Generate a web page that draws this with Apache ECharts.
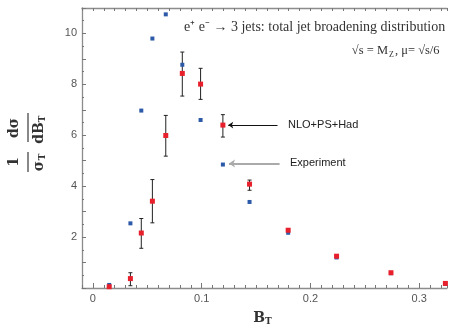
<!DOCTYPE html>
<html>
<head>
<meta charset="utf-8">
<script src="https://cdn.jsdelivr.net/npm/echarts@6/dist/echarts.min.js"></script>
<style>
  html, body { margin: 0; padding: 0; background: #fff; }
  #chart { width: 451px; height: 326px; }
</style>
</head>
<body>
<div id="chart"></div>
<script>
// B_T bin centres
var bT = [0.015, 0.0345, 0.0445, 0.0547, 0.067, 0.0822, 0.099, 0.1195, 0.144, 0.1795, 0.224, 0.274, 0.324];
// experiment (blue)
var expVals = [0.12, 2.54, 6.97, 9.8, 10.75, 8.77, 6.6, 4.85, 3.38, 2.17, 1.2, 0.58, 0.16];
// NLO+PS+Had (red) with error band ends
var nloVals = [0.05, 0.37, 2.16, 3.41, 5.99, 8.43, 8.01, 6.4, 4.08, 2.27, 1.25, 0.6, 0.18];
var nloLow  = [null, 0.09, 1.56, 2.56, 5.18, 7.54, 7.41, 5.93, 3.84, null, null, null, null];
var nloHigh = [null, 0.6, 2.73, 4.26, 6.78, 9.27, 8.63, 6.81, 4.24, null, null, null, null];
// tick labels
var xTicks = [0, 0.1, 0.2, 0.3];
var xTickLabels = ['0', '0.1', '0.2', '0.3'];
var yTicks = [2, 4, 6, 8, 10];
var yTickLabels = ['2', '4', '6', '8', '10'];

var expData = bT.map(function (x, i) { return [x, expVals[i]]; });
var nloData = bT.map(function (x, i) { return [x, nloVals[i]]; });
var errData = [];
bT.forEach(function (x, i) {
  if (nloLow[i] != null) errData.push([x, nloLow[i], nloHigh[i]]);
});

var axisGray = '#8c8c8c';
var xMin = -0.01, xMax = 0.3255;

function xLabel(v) {
  for (var i = 0; i < xTicks.length; i++) {
    if (Math.abs(v - xTicks[i]) < 1e-6) return xTickLabels[i];
  }
  return '';
}
function yLabel(v) {
  for (var i = 0; i < yTicks.length; i++) {
    if (Math.abs(v - yTicks[i]) < 1e-6) return yTickLabels[i];
  }
  return '';
}

function renderErr(params, api) {
  var x = api.value(0);
  var lo = api.coord([x, api.value(1)]);
  var hi = api.coord([x, api.value(2)]);
  var w = 2;
  var st = { stroke: '#222', lineWidth: 1 };
  return {
    type: 'group',
    children: [
      { type: 'line', shape: { x1: lo[0], y1: lo[1], x2: hi[0], y2: hi[1] }, style: st },
      { type: 'line', shape: { x1: lo[0] - w, y1: lo[1], x2: lo[0] + w, y2: lo[1] }, style: st },
      { type: 'line', shape: { x1: hi[0] - w, y1: hi[1], x2: hi[0] + w, y2: hi[1] }, style: st }
    ]
  };
}

var serifBold = 'bold 14px "DejaVu Serif"';
var subBold = 'bold 9px "DejaVu Serif"';
var R = Math.PI / 2;
// rotated text helper for the y axis name
function rt(x, y, text, font) {
  return { type: 'text', x: x, y: y, rotation: R,
    style: { text: text, font: font, fill: '#333', textAlign: 'center', textVerticalAlign: 'middle' } };
}

var chart = echarts.init(document.getElementById('chart'));
chart.setOption({
  animation: false,
  grid: { left: 82, right: 4, top: 8, bottom: 38 },
  xAxis: [
    {
      type: 'value', position: 'bottom', min: xMin, max: xMax, interval: 0.01,
      axisLine: { onZero: false, lineStyle: { color: axisGray, width: 1.3 } },
      axisTick: { inside: true, length: 3, lineStyle: { color: '#777' } },
      axisLabel: { formatter: xLabel, color: '#555', fontSize: 11, margin: 5, fontFamily: 'Liberation Sans',
        showMinLabel: true, showMaxLabel: true },
      splitLine: { show: false }
    },
    {
      type: 'value', position: 'bottom', min: xMin, max: xMax,
      axisLine: { show: false, onZero: false },
      axisTick: { inside: true, length: 5, customValues: xTicks, lineStyle: { color: '#777' } },
      axisLabel: { show: false },
      splitLine: { show: false }
    },
    {
      type: 'value', position: 'top', min: xMin, max: xMax, interval: 0.01,
      axisLine: { onZero: false, lineStyle: { color: axisGray, width: 1.3 } },
      axisTick: { inside: true, length: 3, lineStyle: { color: '#777' } },
      axisLabel: { show: false },
      splitLine: { show: false }
    }
  ],
  yAxis: {
    type: 'value', min: 0, max: 11, interval: 1,
    axisLine: { show: true, onZero: false, lineStyle: { color: axisGray, width: 1.3 } },
    axisTick: { inside: true, length: 4, lineStyle: { color: '#777' } },
    minorTick: { show: true, splitNumber: 2, length: 2, lineStyle: { color: '#777' } },
    axisLabel: { formatter: yLabel, color: '#555', fontSize: 11, margin: 5, fontFamily: 'Liberation Sans' },
    splitLine: { show: false }
  },
  series: [
    {
      type: 'custom', renderItem: renderErr, data: errData, z: 2,
      encode: { x: 0, y: [1, 2] }
    },
    {
      name: 'Experiment', type: 'scatter', data: expData, symbol: 'rect', symbolSize: 4, z: 3,
      itemStyle: { color: '#2c5aa8', opacity: 1 },
      markLine: {
        silent: true, symbol: ['none', 'arrow'], symbolSize: [6, 6],
        label: { show: false },
        lineStyle: { color: '#aaaaaa', width: 2, type: 'solid' },
        data: [[{ coord: [0.1716, 4.89] }, { coord: [0.1251, 4.89] }]]
      }
    },
    {
      name: 'NLO+PS+Had', type: 'scatter', data: nloData, symbol: 'rect', symbolSize: 5, z: 4,
      itemStyle: { color: '#e8202c', opacity: 1 },
      markLine: {
        silent: true, symbol: ['none', 'arrow'], symbolSize: [5, 5],
        label: { show: false },
        lineStyle: { color: '#111', width: 1, type: 'solid' },
        data: [[{ coord: [0.1697, 6.4] }, { coord: [0.1244, 6.4] }]]
      }
    }
  ],
  graphic: [
    { type: 'text', x: 184, y: 27, style: { text: 'e\u207A e\u207B \u2192 3 jets: total jet broadening distribution',
      font: '14px "Liberation Serif"', fill: '#333', textAlign: 'left', textVerticalAlign: 'middle' } },
    { type: 'text', x: 388, y: 51, style: { text: '\u221As = M', font: '12.5px "Liberation Serif"', fill: '#333',
      textAlign: 'right', textVerticalAlign: 'middle' } },
    { type: 'text', x: 389, y: 55, style: { text: 'Z', font: '8px "Liberation Serif"', fill: '#333',
      textAlign: 'left', textVerticalAlign: 'middle' } },
    { type: 'text', x: 395, y: 51, style: { text: ', \u03BC= \u221As/6', font: '12.5px "Liberation Serif"', fill: '#333',
      textAlign: 'left', textVerticalAlign: 'middle' } },
    { type: 'text', x: 288, y: 125, style: { text: 'NLO+PS+Had', font: '11px "Liberation Sans"', fill: '#222',
      textAlign: 'left', textVerticalAlign: 'middle' } },
    { type: 'text', x: 290, y: 163, style: { text: 'Experiment', font: '11px "Liberation Sans"', fill: '#222',
      textAlign: 'left', textVerticalAlign: 'middle' } },
    // x axis name B_T
    { type: 'text', x: 265, y: 318, style: { text: 'B', font: serifBold, fill: '#333', textAlign: 'right', textVerticalAlign: 'middle' } },
    { type: 'text', x: 265, y: 322, style: { text: 'T', font: subBold, fill: '#333', textAlign: 'left', textVerticalAlign: 'middle' } },
    // y axis name: (1/sigma_T) dsigma/dB_T, read bottom to top
    rt(14, 162, '1', serifBold),
    rt(39, 166, '\u03C3', serifBold),
    rt(43, 157, 'T', subBold),
    { type: 'line', shape: { x1: 28, y1: 152, x2: 28, y2: 172 }, style: { stroke: '#888', lineWidth: 2 } },
    rt(14, 128, 'd\u03C3', serifBold),
    rt(39, 133, 'dB', serifBold),
    rt(43, 119, 'T', subBold),
    { type: 'line', shape: { x1: 28, y1: 113, x2: 28, y2: 142 }, style: { stroke: '#888', lineWidth: 2 } }
  ]
});
</script>
</body>
</html>
